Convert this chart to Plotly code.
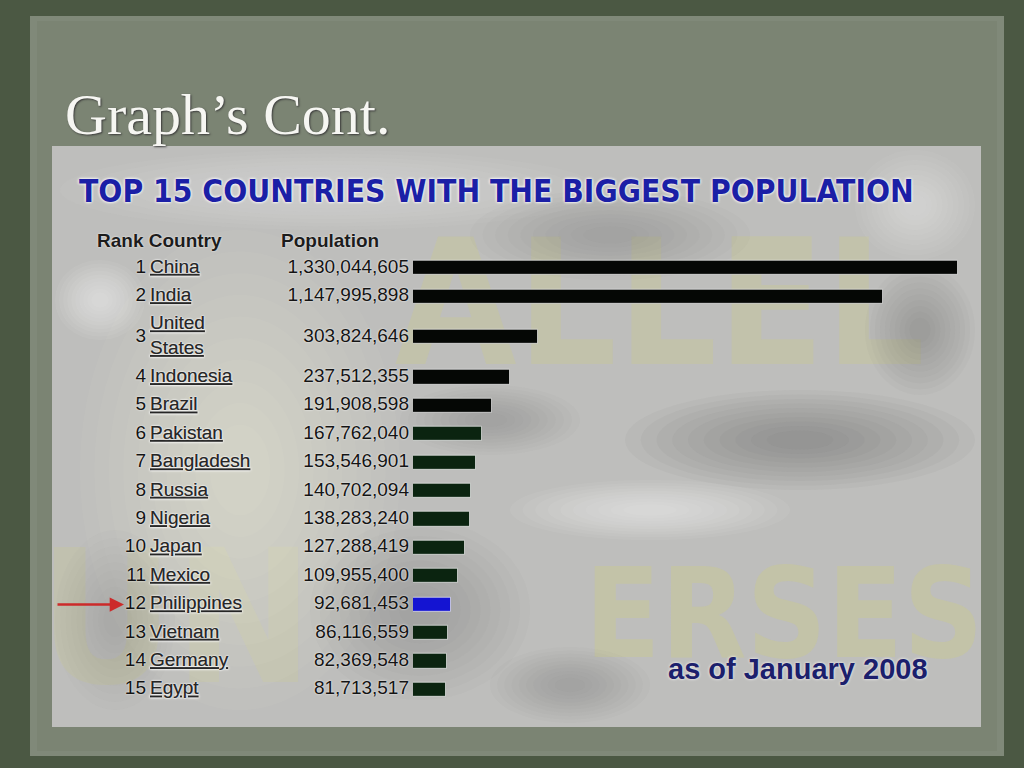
import plotly.graph_objects as go

# ---------------- data ----------------
ranks = [1, 2, 3, 4, 5, 6, 7, 8, 9, 10, 11, 12, 13, 14, 15]
countries = ["China", "India", "United<br>States", "Indonesia", "Brazil", "Pakistan",
             "Bangladesh", "Russia", "Nigeria", "Japan", "Mexico", "Philippines",
             "Vietnam", "Germany", "Egypt"]
population = [1330044605, 1147995898, 303824646, 237512355, 191908598, 167762040,
              153546901, 140702094, 138283240, 127288419, 109955400, 92681453,
              86116559, 82369548, 81713517]
highlight = "Philippines"

title_text = "Graph\u2019s Cont."
chart_title = "TOP 15 COUNTRIES WITH THE BIGGEST POPULATION"
header_left = "Rank Country"
header_right = "Population"
note_text = "as of January 2008"
watermark_top = "ALLEL"
watermark_bottom_a = "UN"
watermark_bottom_b = "ERSES"

# ---------------- layout helpers ----------------
W, H = 1024, 768
ROW_PX = 28.4
PANEL = (52, 146, 981, 727)
def px(x):
    return x / W
def py(y):
    return 1 - y / H

# row heights depend on number of label lines
weights = [1 + 0.85 * (c.count("<br>")) for c in countries]
centers = []
acc = 0.0
for w in weights:
    centers.append(acc + w / 2)
    acc += w
total = acc
row_top = 253.8
row_bottom = row_top + total * ROW_PX
ydom = [py(row_bottom), py(row_top)]

bar_colors = []
for i, c in enumerate(countries):
    if c == highlight:
        bar_colors.append("#1414d2")
    elif i < 5:
        bar_colors.append("#050705")
    else:
        bar_colors.append("#0b2410")

fig = go.Figure()

fig.add_trace(go.Bar(
    x=population, y=centers, orientation="h", width=0.5,
    marker=dict(color=bar_colors, line=dict(color="rgba(255,255,255,0.6)", width=1)),
    hoverinfo="skip", xaxis="x", yaxis="y", showlegend=False,
))

row_font = dict(family="Liberation Sans, Arial, sans-serif", size=19, color="#141414",
                shadow="0 0 2px #ffffff")
fig.add_trace(go.Scatter(
    x=[146] * len(ranks), y=centers, mode="text", text=[str(r) for r in ranks],
    textposition="middle left", textfont=row_font, hoverinfo="skip",
    xaxis="x2", yaxis="y2", showlegend=False,
))
fig.add_trace(go.Scatter(
    x=[150] * len(countries), y=centers, mode="text", text=countries,
    textposition="middle right",
    textfont=dict(family="Liberation Sans, Arial, sans-serif", size=19, color="#262626",
                  shadow="0 0 2px #ffffff", lineposition="under"),
    hoverinfo="skip", xaxis="x2", yaxis="y2", showlegend=False,
))
fig.add_trace(go.Scatter(
    x=[409] * len(population), y=centers, mode="text",
    text=[f"{p:,}" for p in population], textposition="middle left",
    textfont=row_font, hoverinfo="skip", xaxis="x2", yaxis="y2", showlegend=False,
))

# ---------------- background shapes ----------------
shapes = []
def rect(x0, y0, x1, y1, fill, layer="below", **kw):
    d = dict(type="rect", xref="paper", yref="paper", x0=px(x0), x1=px(x1),
             y0=py(y1), y1=py(y0), fillcolor=fill, layer=layer, line=dict(width=0))
    d.update(kw)
    shapes.append(d)
def blob(cx, cy, rx, ry, rgb, alpha, steps=10):
    # soft cloud: many faint concentric ellipses, kept inside the picture
    for s in range(steps):
        k = 1.0 - 0.9 * s / steps
        x0 = max(cx - rx * k, PANEL[0]); x1 = min(cx + rx * k, PANEL[2])
        y0 = max(cy - ry * k, PANEL[1]); y1 = min(cy + ry * k, PANEL[3])
        shapes.append(dict(type="circle", xref="paper", yref="paper",
                           x0=px(x0), x1=px(x1), y0=py(y1), y1=py(y0),
                           fillcolor=f"rgba({rgb},{alpha})", line=dict(width=0),
                           layer="below"))

# slide panel (torn-paper look)
rect(30, 16, 1004, 756, "#808979")
rect(37, 21, 997, 751, "#7b8473")
# picture
rect(*PANEL, "#bebebc")
# faint watermark lettering
def wm(x0, y0, x1, y1, text, size, alpha):
    rect(x0, y0, x1, y1, "rgba(0,0,0,0)", label=dict(
        text=text, font=dict(family="DejaVu Sans Condensed, DejaVu Sans, sans-serif",
                             size=size, weight="bold",
                             color=f"rgba(205,205,130,{alpha})"),
        textposition="middle center"))
wm(415, 205, 905, 375, watermark_top, 175, 0.28)
wm(52, 480, 300, 730, watermark_bottom_a, 185, 0.22)
wm(590, 480, 978, 730, watermark_bottom_b, 124, 0.34)
# clouds
blob(330, 190, 270, 40, "242,242,240", 0.05)
blob(610, 235, 140, 45, "110,110,110", 0.035)
blob(915, 205, 60, 55, "240,240,240", 0.06)
blob(920, 330, 55, 65, "105,105,105", 0.04)
blob(240, 470, 160, 240, "246,246,238", 0.045)
blob(100, 300, 45, 40, "252,252,252", 0.06)
blob(800, 440, 175, 50, "95,95,95", 0.05)
blob(490, 420, 90, 35, "115,115,115", 0.035)
blob(650, 510, 140, 30, "250,250,250", 0.06)
blob(420, 610, 110, 90, "125,125,125", 0.035)
blob(570, 685, 80, 38, "125,125,125", 0.035)
blob(115, 620, 60, 90, "130,130,130", 0.03)

annotations = [
    dict(xref="paper", yref="paper", x=px(63), y=py(114), xanchor="left", yanchor="middle",
         text=title_text, showarrow=False,
         font=dict(family="Liberation Serif, serif", size=58, color="#f6f6f2",
                   shadow="1px 1px 2px #3a3a3a")),
    dict(xref="paper", yref="paper", x=px(77), y=py(191), xanchor="left", yanchor="middle",
         text=f"<b>{chart_title}</b>", showarrow=False,
         font=dict(family="DejaVu Sans Condensed, sans-serif",
                   size=31.5, color="#1b1fa6",
                   shadow="0 0 3px #ffffff, 0 0 3px #ffffff")),
    dict(xref="paper", yref="paper", x=px(95), y=py(241), xanchor="left", yanchor="middle",
         text=f"<b>{header_left}</b>", showarrow=False,
         font=dict(family="Liberation Sans, Arial, sans-serif", size=19, color="#1c1c1c",
                   shadow="0 0 2px #ffffff")),
    dict(xref="paper", yref="paper", x=px(279), y=py(241), xanchor="left", yanchor="middle",
         text=f"<b>{header_right}</b>", showarrow=False,
         font=dict(family="Liberation Sans, Arial, sans-serif", size=19, color="#1c1c1c",
                   shadow="0 0 2px #ffffff")),
    dict(xref="paper", yref="paper", x=px(666), y=py(669), xanchor="left", yanchor="middle",
         text=f"<b>{note_text}</b>", showarrow=False,
         font=dict(family="Liberation Sans, Arial, sans-serif", size=29, color="#1c1f6c",
                   shadow="0 0 3px #ffffff")),
    dict(xref="x2", yref="y2", x=124, y=centers[countries.index(highlight)],
         axref="x2", ayref="y2", ax=56, ay=centers[countries.index(highlight)],
         text="", showarrow=True, arrowhead=2, arrowsize=1.1, arrowwidth=2.6,
         arrowcolor="#cc2a2a"),
]

fig.update_layout(
    width=W, height=H, margin=dict(l=0, r=0, t=0, b=0),
    paper_bgcolor="#4b5843", plot_bgcolor="rgba(0,0,0,0)",
    shapes=shapes, annotations=annotations, bargap=0,
    xaxis=dict(domain=[px(413), px(958)], range=[0, max(population)], visible=False,
               fixedrange=True),
    yaxis=dict(domain=ydom, range=[total, 0], visible=False, fixedrange=True),
    xaxis2=dict(domain=[0, 1], range=[0, W], visible=False, anchor="y2"),
    yaxis2=dict(domain=ydom, range=[total, 0], visible=False, anchor="x2"),
)

fig.write_html("out.html", config={"displayModeBar": False},
               post_script="document.body.style.margin='0px';document.body.style.overflow='hidden';")
